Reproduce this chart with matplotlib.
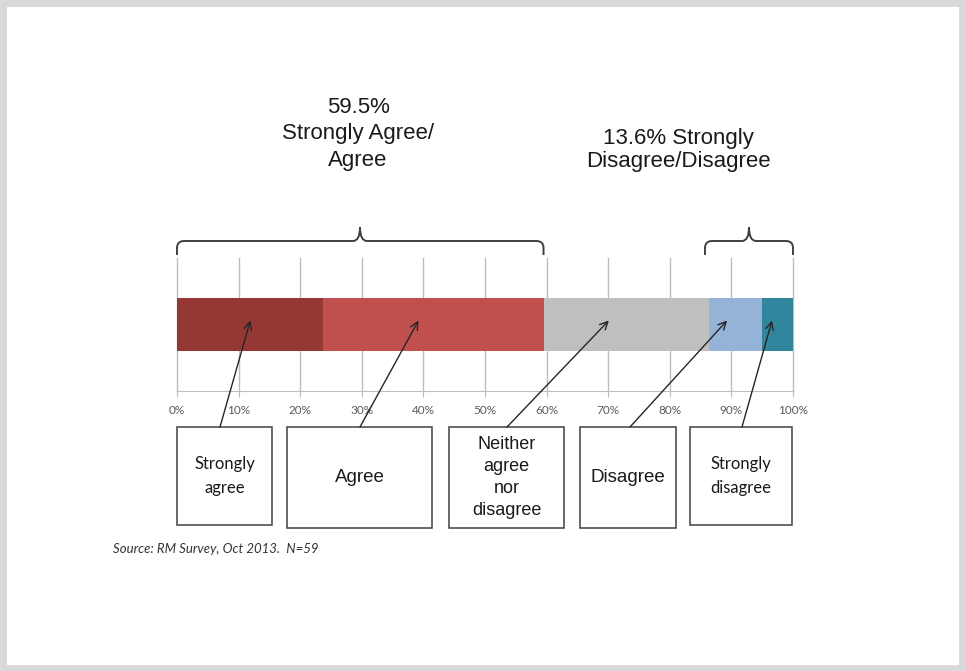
import numpy as np
import matplotlib
matplotlib.use("Agg")
import matplotlib.pyplot as plt
from matplotlib.path import Path
from matplotlib.patches import PathPatch, Rectangle

# survey response shares (%), N=59
categories = ["Strongly agree", "Agree", "Neither agree nor disagree", "Disagree", "Strongly disagree"]
shares = [23.7, 35.8, 26.9, 8.5, 5.1]
colors = ["#953735", "#c0504d", "#bfbfbf", "#95b3d7", "#31859c"]
box_labels = ["Strongly\nagree", "Agree", "Neither\nagree\nnor\ndisagree", "Disagree", "Strongly\ndisagree"]
tick_vals = [0, 10, 20, 30, 40, 50, 60, 70, 80, 90, 100]
tick_labels = [f"{t}%" for t in tick_vals]
agree_total = 59.5
disagree_total = 13.6
source_note = "Source: RM Survey, Oct 2013.  N=59"

W, H = 965, 671
fig = plt.figure(figsize=(W / 100, H / 100), dpi=100)
fig.patch.set_facecolor("white")

# stacked bar
ax = fig.add_axes([177 / W, 1 - 391 / H, 616 / W, 133 / H])
lefts = np.concatenate([[0], np.cumsum(shares)[:-1]])
ax.barh(0, shares, left=lefts, height=0.4, color=colors, zorder=2)
ax.set_xlim(0, 100)
ax.set_ylim(-0.5, 0.5)
ax.set_xticks(tick_vals)
ax.set_xticklabels(tick_labels, fontsize=8.5, color="#595959", family="Lato")
ax.set_yticks([])
ax.grid(axis="x", color="#bdbdbd", lw=1, zorder=0)
for gl in ax.get_xgridlines():
    gl.set_clip_on(False)
for s in ["top", "left", "right"]:
    ax.spines[s].set_visible(False)
ax.spines["bottom"].set_color("#bdbdbd")
ax.tick_params(axis="x", length=4, color="#bdbdbd", pad=6)
ax.patch.set_alpha(0)

# overlay in pixel coordinates for braces, boxes and notes
ov = fig.add_axes([0, 0, 1, 1])
ov.set_xlim(0, W)
ov.set_ylim(H, 0)
ov.axis("off")

# page border
ov.add_patch(Rectangle((3, 3), W - 6, H - 6, fill=False, ec="#d9d9d9", lw=5))


def brace(x0, x1, xm, y=241, end=14, tip=14, r=7):
    verts = [(x0, y + end), (x0, y + r), (x0, y), (x0 + r, y), (xm - r, y), (xm, y), (xm, y - tip),
             (xm, y - tip), (xm, y), (xm + r, y), (x1 - r, y), (x1, y), (x1, y + r), (x1, y + end)]
    codes = [Path.MOVETO, Path.LINETO, Path.CURVE3, Path.CURVE3, Path.LINETO, Path.CURVE3, Path.CURVE3,
             Path.MOVETO, Path.CURVE3, Path.CURVE3, Path.LINETO, Path.CURVE3, Path.CURVE3, Path.LINETO]
    ov.add_patch(PathPatch(Path(verts, codes), fill=False, ec="#404040", lw=1.4))


x_px = lambda v: 177 + v * 6.16
brace(x_px(0), x_px(agree_total), 360)
brace(705, x_px(100), 749)

ov.text(358, 134, f"{agree_total}%\nStrongly Agree/\nAgree", ha="center", va="center",
        fontsize=16, family="Liberation Sans", color="#1a1a1a", linespacing=1.35)
ov.text(678, 150, f"{disagree_total}% Strongly\nDisagree/Disagree", ha="center", va="center",
        fontsize=16, family="Liberation Sans", color="#1a1a1a", linespacing=1.15)

# label boxes with arrows to their segments
boxes = [(177, 427, 95, 98), (287, 427, 145, 101), (449, 427, 115, 101), (580, 427, 96, 101), (690, 427, 102, 98)]
arrow_tail = [220, 360, 507, 630, 742]
arrow_tip = [11.9, 39.2, 70.1, 89.3, 96.6]
box_font = ["Lato", "Liberation Sans", "Liberation Sans", "Liberation Sans", "Lato"]
box_size = [12, 13.5, 13, 13.5, 12]
box_ls = [1.6, 1.2, 1.4, 1.2, 1.6]
for (bx, by, bw, bh), lab, tail, tip, fam, fs, ls in zip(boxes, box_labels, arrow_tail, arrow_tip,
                                                       box_font, box_size, box_ls):
    ov.add_patch(Rectangle((bx, by), bw, bh, fill=True, fc="white", ec="#404040", lw=1.1))
    ov.text(bx + bw / 2, by + bh / 2, lab, ha="center", va="center", fontsize=fs,
            family=fam, color="#1a1a1a", linespacing=ls)
    ov.annotate("", xy=(tip, 0.03), xycoords=ax.transData, xytext=(tail, by), textcoords=ov.transData,
                arrowprops=dict(arrowstyle="->", color="#262626", lw=1, mutation_scale=14,
                                shrinkA=0, shrinkB=0))

ov.text(113, 549, source_note, ha="left", va="center", fontsize=9.5, style="italic",
        family="Lato", color="#333333")

fig.savefig("out.png", dpi=100)
